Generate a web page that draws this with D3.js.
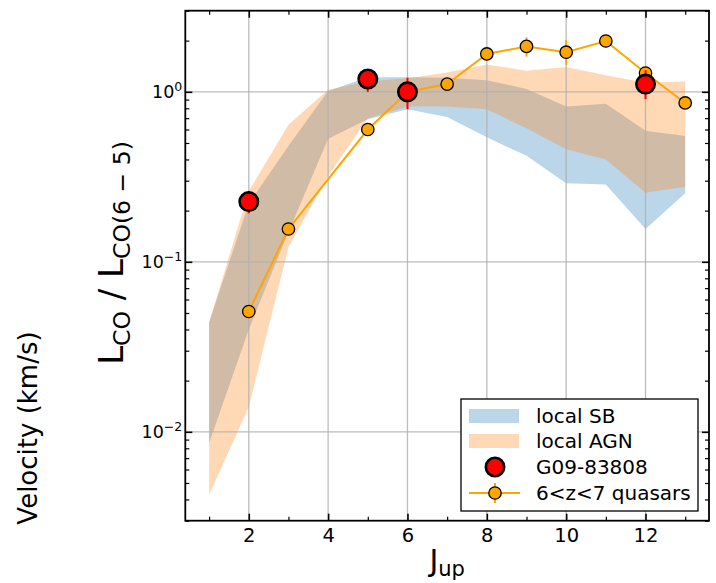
<!DOCTYPE html>
<html>
<head>
<meta charset="utf-8">
<script src="https://cdn.jsdelivr.net/npm/d3@7.9.0/dist/d3.min.js"></script>
<style>
  body { margin: 0; background: #fff; }
  svg { display: block; font-family: "DejaVu Sans", sans-serif; }
</style>
</head>
<body>
<svg id="chart" width="716" height="583"></svg>
<script>
// CO ladder ranges of the local samples
const jup = [1, 2, 3, 4, 5, 6, 7, 8, 9, 10, 11, 12, 13];
const sbLow  = [0.0086, 0.040, 0.150, 0.53, 0.69, 0.79, 0.71, 0.54, 0.42, 0.29, 0.285, 0.156, 0.253];
const sbHigh = [0.044, 0.220, 0.480, 1.01, 1.22, 1.22, 1.21, 1.17, 1.04, 0.82, 0.85, 0.59, 0.55];
const agnLow  = [0.00425, 0.014, 0.122, 0.32, 0.70, 0.82, 0.82, 0.79, 0.61, 0.46, 0.40, 0.255, 0.276];
const agnHigh = [0.044, 0.260, 0.640, 1.03, 1.15, 1.20, 1.30, 1.45, 1.33, 1.40, 1.25, 1.13, 1.15];

// G09-83808
const g09J   = [2, 5, 6, 12];
const g09Val = [0.226, 1.19, 1.0, 1.11];
const g09Lo  = [0.193, 1.0, 0.79, 0.905];
const g09Hi  = [0.26, 1.35, 1.21, 1.34];

// 6<z<7 quasars
const qsoJ   = [2, 3, 5, 6, 7, 8, 9, 10, 11, 12, 13];
const qsoVal = [0.051, 0.156, 0.60, 1.0, 1.11, 1.67, 1.85, 1.71, 1.99, 1.29, 0.86];
const qsoLo  = [0.047, 0.145, 0.57, 0.95, 1.05, 1.58, 1.61, 1.44, 1.90, 1.15, 0.82];
const qsoHi  = [0.055, 0.167, 0.63, 1.05, 1.17, 1.76, 2.09, 2.01, 2.08, 1.40, 0.90];

const xTicks = [2, 4, 6, 8, 10, 12];
const yTicks = [0.01, 0.1, 1];
const yExps = ["\u22122", "\u22121", "0"];

const margin = { left: 185.3, right: 709, top: 10.7, bottom: 520.7 };
const svg = d3.select("#chart");

const x = d3.scaleLinear().domain([0.4, 13.6]).range([margin.left, margin.right]);
const y = d3.scaleLog().domain([0.003, 3]).range([margin.bottom, margin.top]);

svg.append("rect").attr("width", 716).attr("height", 583).attr("fill", "#fff");

const plot = svg.append("g");

// shaded bands
const sbArea = d3.area()
  .x((d, i) => x(jup[i]))
  .y0((d, i) => y(sbLow[i]))
  .y1((d, i) => y(sbHigh[i]));
const agnArea = d3.area()
  .x((d, i) => x(jup[i]))
  .y0((d, i) => y(agnLow[i]))
  .y1((d, i) => y(agnHigh[i]));

plot.append("path").attr("d", sbArea(jup)).attr("fill", "#1f77b4").attr("fill-opacity", 0.3);
plot.append("path").attr("d", agnArea(jup)).attr("fill", "#ff7f0e").attr("fill-opacity", 0.3);

// grid
plot.selectAll(".gx").data(xTicks).enter().append("line")
  .attr("x1", d => x(d)).attr("x2", d => x(d))
  .attr("y1", margin.top).attr("y2", margin.bottom)
  .attr("stroke", "#b0b0b0").attr("stroke-width", 1.3).attr("stroke-opacity", 0.85);
plot.selectAll(".gy").data(yTicks).enter().append("line")
  .attr("y1", d => y(d)).attr("y2", d => y(d))
  .attr("x1", margin.left).attr("x2", margin.right)
  .attr("stroke", "#b0b0b0").attr("stroke-width", 1.3).attr("stroke-opacity", 0.85);

// quasars line + error bars + markers
const line = d3.line().x((d, i) => x(qsoJ[i])).y((d, i) => y(qsoVal[i]));
plot.append("path").attr("d", line(qsoJ))
  .attr("fill", "none").attr("stroke", "orange").attr("stroke-width", 2);
plot.selectAll(".qerr").data(qsoJ).enter().append("line")
  .attr("x1", d => x(d)).attr("x2", d => x(d))
  .attr("y1", (d, i) => y(qsoLo[i])).attr("y2", (d, i) => y(qsoHi[i]))
  .attr("stroke", "orange").attr("stroke-width", 2);
plot.selectAll(".qpt").data(qsoJ).enter().append("circle")
  .attr("cx", d => x(d)).attr("cy", (d, i) => y(qsoVal[i]))
  .attr("r", 6.2).attr("fill", "orange").attr("stroke", "#000").attr("stroke-width", 1.3);

// G09-83808
plot.selectAll(".gerr").data(g09J).enter().append("line")
  .attr("x1", d => x(d)).attr("x2", d => x(d))
  .attr("y1", (d, i) => y(g09Lo[i])).attr("y2", (d, i) => y(g09Hi[i]))
  .attr("stroke", "red").attr("stroke-width", 2);
plot.selectAll(".gpt").data(g09J).enter().append("circle")
  .attr("cx", d => x(d)).attr("cy", (d, i) => y(g09Val[i]))
  .attr("r", 9.2).attr("fill", "red").attr("stroke", "#000").attr("stroke-width", 2.6);

// axes: inward ticks on all four sides
const xMinor = [1, 3, 5, 7, 9, 11, 13];
const yMinor = [];
[0.001, 0.01, 0.1, 1].forEach(dec => {
  for (let k = 2; k <= 9; k++) {
    const v = dec * k;
    if (v >= 0.003 && v <= 3) yMinor.push(v);
  }
});

function styleAxis(g, w) {
  g.select(".domain").remove();
  g.selectAll(".tick line").attr("stroke", "#000").attr("stroke-width", w);
}

svg.append("g").attr("transform", `translate(0,${margin.bottom})`)
  .call(d3.axisBottom(x).tickValues(xTicks).tickSizeInner(-7).tickSizeOuter(0).tickPadding(7))
  .call(g => styleAxis(g, 1.6))
  .call(g => g.selectAll("text").attr("font-size", 19.5).attr("fill", "#000")
    .attr("font-family", "DejaVu Sans"));
svg.append("g").attr("transform", `translate(0,${margin.bottom})`)
  .call(d3.axisBottom(x).tickValues(xMinor).tickSizeInner(-4).tickSizeOuter(0).tickFormat(""))
  .call(g => styleAxis(g, 1.2));
svg.append("g").attr("transform", `translate(0,${margin.top})`)
  .call(d3.axisTop(x).tickValues(xTicks).tickSizeInner(-7).tickSizeOuter(0).tickFormat(""))
  .call(g => styleAxis(g, 1.6));
svg.append("g").attr("transform", `translate(0,${margin.top})`)
  .call(d3.axisTop(x).tickValues(xMinor).tickSizeInner(-4).tickSizeOuter(0).tickFormat(""))
  .call(g => styleAxis(g, 1.2));

svg.append("g").attr("transform", `translate(${margin.left},0)`)
  .call(d3.axisLeft(y).tickValues(yTicks).tickSizeInner(-7).tickSizeOuter(0).tickFormat(""))
  .call(g => styleAxis(g, 1.6));
svg.append("g").attr("transform", `translate(${margin.left},0)`)
  .call(d3.axisLeft(y).tickValues(yMinor).tickSizeInner(-4).tickSizeOuter(0).tickFormat(""))
  .call(g => styleAxis(g, 1.2));
svg.append("g").attr("transform", `translate(${margin.right},0)`)
  .call(d3.axisRight(y).tickValues(yTicks).tickSizeInner(-7).tickSizeOuter(0).tickFormat(""))
  .call(g => styleAxis(g, 1.6));
svg.append("g").attr("transform", `translate(${margin.right},0)`)
  .call(d3.axisRight(y).tickValues(yMinor).tickSizeInner(-4).tickSizeOuter(0).tickFormat(""))
  .call(g => styleAxis(g, 1.2));

// y tick labels 10^n
const yLab = svg.append("g").attr("font-size", 17.5).attr("fill", "#000");
yTicks.forEach((v, i) => {
  const t = yLab.append("text")
    .attr("x", margin.left - 3)
    .attr("y", y(v) + 6.4)
    .attr("text-anchor", "end");
  t.append("tspan").text("10");
  t.append("tspan").attr("dy", -7.5).attr("font-size", 12.5).text(yExps[i]);
});

// frame
svg.append("rect")
  .attr("x", margin.left).attr("y", margin.top)
  .attr("width", margin.right - margin.left).attr("height", margin.bottom - margin.top)
  .attr("fill", "none").attr("stroke", "#000").attr("stroke-width", 1.8);

// axis labels
const xl = svg.append("text")
  .attr("x", (margin.left + margin.right) / 2).attr("y", 571)
  .attr("text-anchor", "middle").attr("font-size", 30);
xl.append("tspan").text("J");
xl.append("tspan").attr("font-size", 21).attr("dy", 5).text("up");

const yl = svg.append("text")
  .attr("transform", `translate(123,253) rotate(-90)`)
  .attr("text-anchor", "middle").attr("font-size", 34);
yl.append("tspan").text("L");
yl.append("tspan").attr("font-size", 23.5).attr("dy", 6.5).text("CO");
yl.append("tspan").attr("dy", -6.5).text(" / L");
yl.append("tspan").attr("font-size", 23.5).attr("dy", 6.5).text("CO(6 \u2212 5)");

svg.append("text")
  .attr("transform", `translate(37,428) rotate(-90)`)
  .attr("text-anchor", "middle").attr("font-size", 26)
  .text("Velocity (km/s)");

// legend
const lg = svg.append("g");
lg.append("rect").attr("x", 461).attr("y", 399).attr("width", 237).attr("height", 112)
  .attr("fill", "#fff").attr("stroke", "#000").attr("stroke-width", 1.3);
const rowY = [416, 441, 467, 493];
lg.append("rect").attr("x", 469).attr("y", rowY[0] - 7).attr("width", 50).attr("height", 14)
  .attr("fill", "#1f77b4").attr("fill-opacity", 0.3);
lg.append("rect").attr("x", 469).attr("y", rowY[1] - 7).attr("width", 50).attr("height", 14)
  .attr("fill", "#ff7f0e").attr("fill-opacity", 0.3);
lg.append("circle").attr("cx", 495).attr("cy", rowY[2]).attr("r", 9.2)
  .attr("fill", "red").attr("stroke", "#000").attr("stroke-width", 2.6);
lg.append("line").attr("x1", 469).attr("x2", 520).attr("y1", rowY[3]).attr("y2", rowY[3])
  .attr("stroke", "orange").attr("stroke-width", 2);
lg.append("line").attr("x1", 495).attr("x2", 495).attr("y1", rowY[3] - 10).attr("y2", rowY[3] + 10)
  .attr("stroke", "orange").attr("stroke-width", 2);
lg.append("circle").attr("cx", 495).attr("cy", rowY[3]).attr("r", 6.2)
  .attr("fill", "orange").attr("stroke", "#000").attr("stroke-width", 1.3);
const labels = ["local SB", "local AGN", "G09-83808", "6<z<7 quasars"];
lg.selectAll(".lt").data(labels).enter().append("text")
  .attr("x", 536).attr("y", (d, i) => rowY[i] + 7)
  .attr("font-size", 20).text(d => d);
</script>
</body>
</html>
